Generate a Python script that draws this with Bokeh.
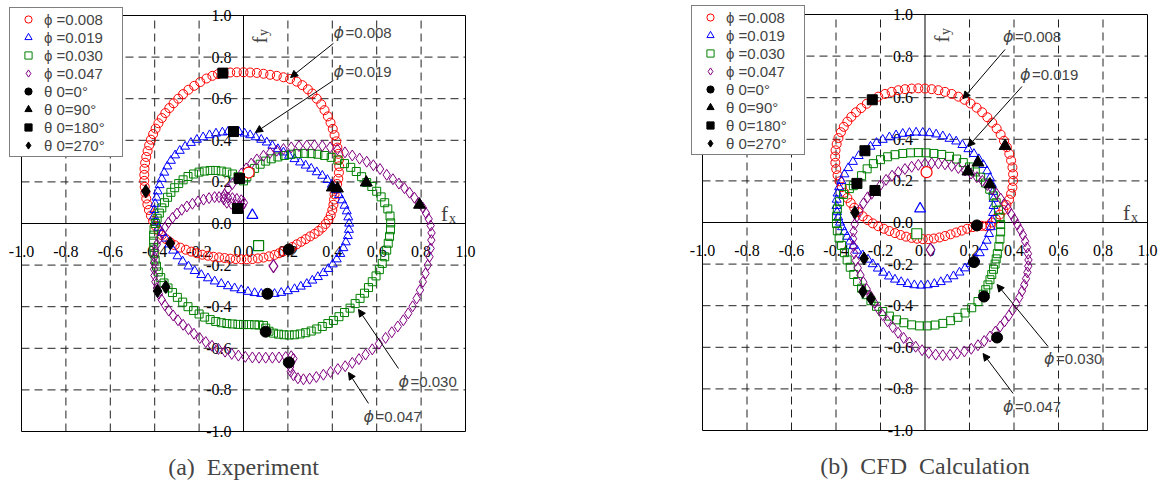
import math
from bokeh.plotting import figure
from bokeh.models import (Label, Arrow, NormalHead, Legend, LegendItem, Range1d)
from bokeh.layouts import row
from bokeh.embed import file_html
from bokeh.resources import INLINE

# ---------------- data ----------------
TICKS = [-1.0, -0.8, -0.6, -0.4, -0.2, 0.0, 0.2, 0.4, 0.6, 0.8, 1.0]
TICK_LABELS = ["-1.0", "-0.8", "-0.6", "-0.4", "-0.2", "0.0", "0.2", "0.4", "0.6", "0.8", "1.0"]
GRID = [-0.8, -0.6, -0.4, -0.2, 0.2, 0.4, 0.6, 0.8]

SERIES = ["\u03d5 =0.008", "\u03d5 =0.019", "\u03d5 =0.030", "\u03d5 =0.047"]
THETAS = ["\u03b8 0=0°", "\u03b8 0=90°", "\u03b8 0=180°", "\u03b8 0=270°"]
NOTE_TEXT = ["=0.008", "=0.019", "=0.030", "=0.047"]
CAPTIONS = ["(a)\u00a0\u00a0Experiment", "(b)\u00a0\u00a0CFD\u00a0\u00a0Calculation"]
SERIF = "Times New Roman"

# (a) Experiment orbits (fx, fy)
EXP_008 = [(-0.09,0.724),(-0.06,0.726),(-0.03,0.727),(0.0,0.727),(0.03,0.726),(0.06,0.724),(0.09,0.72),(0.12,0.715),(0.15,0.71),(0.18,0.703),(0.21,0.695),(0.24,0.682),(0.265,0.665),(0.29,0.645),(0.31,0.625),(0.33,0.60),(0.35,0.573),(0.365,0.545),(0.38,0.515),(0.392,0.485),(0.402,0.455),(0.41,0.425),(0.418,0.395),(0.423,0.365),(0.427,0.335),(0.43,0.305),(0.431,0.275),(0.43,0.245),(0.427,0.215),(0.422,0.19),(0.415,0.165),(0.41,0.14),(0.408,0.115),(0.405,0.09),(0.40,0.065),(0.393,0.04),(0.383,0.018),(0.37,-0.002),(0.355,-0.02),(0.338,-0.036),(0.32,-0.05),(0.30,-0.062),(0.28,-0.075),(0.26,-0.088),(0.24,-0.1),(0.22,-0.113),(0.20,-0.124),(0.18,-0.134),(0.16,-0.143),(0.14,-0.151),(0.115,-0.158),(0.09,-0.164),(0.065,-0.168),(0.04,-0.171),(0.015,-0.172),(-0.01,-0.172),(-0.035,-0.171),(-0.06,-0.169),(-0.085,-0.166),(-0.11,-0.163),(-0.135,-0.16),(-0.16,-0.155),(-0.185,-0.15),(-0.21,-0.143),(-0.235,-0.135),(-0.26,-0.126),(-0.285,-0.116),(-0.31,-0.104),(-0.33,-0.09),(-0.35,-0.074),(-0.368,-0.056),(-0.383,-0.035),(-0.396,-0.012),(-0.407,0.012),(-0.417,0.038),(-0.426,0.065),(-0.433,0.092),(-0.438,0.12),(-0.442,0.148),(-0.445,0.176),(-0.447,0.205),(-0.447,0.234),(-0.446,0.263),(-0.443,0.292),(-0.438,0.32),(-0.432,0.348),(-0.425,0.376),(-0.417,0.403),(-0.407,0.43),(-0.396,0.456),(-0.383,0.482),(-0.368,0.507),(-0.352,0.531),(-0.334,0.555),(-0.315,0.578),(-0.294,0.6),(-0.272,0.622),(-0.248,0.643),(-0.222,0.662),(-0.195,0.68),(-0.167,0.697),(-0.14,0.71),(-0.115,0.718)]
EXP_019 = [(-0.045,0.442),(-0.02,0.44),(0.005,0.433),(0.03,0.425),(0.055,0.415),(0.08,0.403),(0.105,0.39),(0.13,0.374),(0.155,0.358),(0.18,0.342),(0.205,0.326),(0.23,0.31),(0.255,0.294),(0.28,0.279),(0.305,0.264),(0.33,0.247),(0.355,0.23),(0.378,0.21),(0.398,0.187),(0.415,0.162),(0.43,0.137),(0.443,0.112),(0.455,0.086),(0.465,0.059),(0.472,0.03),(0.476,0.0),(0.475,-0.03),(0.47,-0.06),(0.461,-0.09),(0.45,-0.118),(0.436,-0.146),(0.42,-0.172),(0.402,-0.196),(0.382,-0.218),(0.36,-0.238),(0.335,-0.257),(0.31,-0.274),(0.285,-0.29),(0.258,-0.303),(0.23,-0.315),(0.2,-0.325),(0.17,-0.333),(0.14,-0.338),(0.11,-0.34),(0.08,-0.338),(0.05,-0.334),(0.02,-0.328),(-0.01,-0.32),(-0.04,-0.311),(-0.07,-0.301),(-0.1,-0.29),(-0.13,-0.278),(-0.16,-0.263),(-0.19,-0.247),(-0.22,-0.228),(-0.248,-0.206),(-0.274,-0.182),(-0.297,-0.157),(-0.317,-0.13),(-0.335,-0.1),(-0.35,-0.072),(-0.366,-0.045),(-0.382,-0.02),(-0.396,0.006),(-0.403,0.035),(-0.402,0.065),(-0.398,0.095),(-0.392,0.125),(-0.386,0.155),(-0.378,0.185),(-0.368,0.215),(-0.357,0.245),(-0.343,0.275),(-0.327,0.302),(-0.308,0.328),(-0.287,0.35),(-0.263,0.37),(-0.237,0.388),(-0.21,0.403),(-0.182,0.415),(-0.153,0.425),(-0.124,0.433),(-0.095,0.438),(-0.07,0.441)]
EXP_030 = [(0.0,0.205),(-0.025,0.225),(-0.05,0.238),(-0.075,0.247),(-0.1,0.252),(-0.125,0.255),(-0.15,0.255),(-0.175,0.252),(-0.2,0.247),(-0.225,0.238),(-0.25,0.226),(-0.272,0.21),(-0.292,0.192),(-0.31,0.172),(-0.327,0.15),(-0.342,0.126),(-0.356,0.1),(-0.368,0.075),(-0.379,0.05),(-0.389,0.025),(-0.397,0.0),(-0.403,-0.028),(-0.405,-0.056),(-0.405,-0.085),(-0.404,-0.115),(-0.402,-0.145),(-0.398,-0.175),(-0.392,-0.205),(-0.384,-0.233),(-0.373,-0.26),(-0.358,-0.286),(-0.34,-0.31),(-0.32,-0.332),(-0.298,-0.355),(-0.274,-0.378),(-0.25,-0.4),(-0.225,-0.418),(-0.2,-0.435),(-0.175,-0.45),(-0.15,-0.462),(-0.125,-0.471),(-0.1,-0.477),(-0.075,-0.481),(-0.05,-0.483),(-0.025,-0.485),(0.0,-0.486),(0.025,-0.486),(0.05,-0.487),(0.07,-0.488),(0.09,-0.49),(0.1,-0.503),(0.115,-0.518),(0.135,-0.527),(0.158,-0.532),(0.182,-0.535),(0.206,-0.536),(0.23,-0.535),(0.255,-0.531),(0.28,-0.525),(0.305,-0.517),(0.33,-0.507),(0.355,-0.495),(0.38,-0.481),(0.405,-0.466),(0.43,-0.448),(0.455,-0.428),(0.48,-0.407),(0.503,-0.385),(0.525,-0.36),(0.545,-0.335),(0.563,-0.308),(0.58,-0.28),(0.597,-0.252),(0.612,-0.222),(0.625,-0.192),(0.636,-0.16),(0.645,-0.128),(0.652,-0.095),(0.658,-0.062),(0.662,-0.03),(0.663,0.003),(0.66,0.036),(0.65,0.07),(0.636,0.1),(0.62,0.128),(0.6,0.155),(0.578,0.178),(0.555,0.197),(0.532,0.225),(0.508,0.25),(0.483,0.27),(0.455,0.288),(0.425,0.305),(0.395,0.318),(0.365,0.327),(0.335,0.333),(0.305,0.336),(0.275,0.337),(0.245,0.336),(0.215,0.333),(0.185,0.327),(0.155,0.32),(0.125,0.311),(0.1,0.3),(0.075,0.285),(0.05,0.265),(0.03,0.245),(0.015,0.225)]
EXP_047 = [(-0.005,0.085),(0.002,0.1),(-0.01,0.112),(-0.03,0.118),(-0.05,0.122),(-0.07,0.125),(-0.09,0.127),(-0.11,0.127),(-0.13,0.127),(-0.155,0.122),(-0.18,0.115),(-0.205,0.106),(-0.23,0.095),(-0.255,0.082),(-0.278,0.066),(-0.3,0.048),(-0.32,0.027),(-0.338,0.005),(-0.354,-0.02),(-0.368,-0.046),(-0.38,-0.073),(-0.39,-0.1),(-0.397,-0.13),(-0.401,-0.16),(-0.403,-0.19),(-0.403,-0.22),(-0.401,-0.25),(-0.397,-0.28),(-0.39,-0.31),(-0.381,-0.338),(-0.369,-0.366),(-0.354,-0.393),(-0.337,-0.418),(-0.317,-0.442),(-0.295,-0.465),(-0.272,-0.487),(-0.248,-0.508),(-0.223,-0.53),(-0.197,-0.551),(-0.17,-0.57),(-0.142,-0.588),(-0.113,-0.603),(-0.083,-0.616),(-0.053,-0.627),(-0.023,-0.635),(0.008,-0.641),(0.04,-0.644),(0.07,-0.645),(0.1,-0.645),(0.13,-0.645),(0.16,-0.644),(0.19,-0.642),(0.215,-0.638),(0.225,-0.65),(0.215,-0.668),(0.21,-0.69),(0.213,-0.712),(0.225,-0.73),(0.245,-0.744),(0.27,-0.749),(0.298,-0.746),(0.328,-0.738),(0.36,-0.727),(0.392,-0.714),(0.425,-0.7),(0.458,-0.686),(0.49,-0.67),(0.52,-0.652),(0.55,-0.63),(0.58,-0.605),(0.61,-0.578),(0.64,-0.55),(0.668,-0.523),(0.695,-0.495),(0.72,-0.465),(0.742,-0.432),(0.762,-0.398),(0.78,-0.36),(0.795,-0.32),(0.808,-0.28),(0.82,-0.24),(0.83,-0.2),(0.838,-0.16),(0.843,-0.12),(0.846,-0.08),(0.847,-0.045),(0.843,-0.01),(0.834,0.022),(0.822,0.05),(0.808,0.076),(0.79,0.1),(0.77,0.124),(0.748,0.148),(0.725,0.17),(0.7,0.192),(0.673,0.213),(0.645,0.234),(0.615,0.262),(0.585,0.28),(0.555,0.297),(0.523,0.312),(0.49,0.327),(0.457,0.342),(0.423,0.356),(0.39,0.366),(0.355,0.373),(0.32,0.376),(0.285,0.375),(0.25,0.372),(0.215,0.366),(0.18,0.358),(0.15,0.35),(0.12,0.34),(0.09,0.326),(0.06,0.308),(0.035,0.288),(0.012,0.265),(-0.01,0.24),(-0.03,0.215),(-0.05,0.19),(-0.07,0.165),(-0.085,0.14),(-0.088,0.115),(-0.075,0.1),(-0.055,0.095),(-0.035,0.09),(-0.015,0.083)]

EXP_MEAN = [(0.023, 0.245), (0.04, 0.04), (0.068, -0.106), (0.135, -0.205)]
EXP_T0 = [(0.204, -0.125), (0.108, -0.338), (0.1, -0.52), (0.204, -0.668)]
EXP_T90 = [(0.40, 0.173), (0.423, 0.168), (0.553, 0.197), (0.793, 0.09)]
EXP_T180 = [(-0.093, 0.723), (-0.045, 0.442), (-0.018, 0.216), (-0.027, 0.072)]
EXP_T270 = [(-0.44, 0.155), (-0.33, -0.095), (-0.35, -0.305), (-0.387, -0.325)]

# (b) CFD orbits
CFD_008 = [(-0.237,0.59),(-0.21,0.605),(-0.18,0.618),(-0.15,0.628),(-0.12,0.636),(-0.09,0.641),(-0.06,0.644),(-0.03,0.645),(0.0,0.644),(0.03,0.641),(0.06,0.636),(0.09,0.628),(0.12,0.618),(0.15,0.605),(0.178,0.59),(0.205,0.572),(0.232,0.552),(0.257,0.53),(0.28,0.506),(0.302,0.48),(0.322,0.452),(0.34,0.423),(0.355,0.393),(0.368,0.362),(0.379,0.33),(0.387,0.298),(0.393,0.265),(0.396,0.232),(0.396,0.2),(0.393,0.168),(0.387,0.138),(0.378,0.11),(0.366,0.084),(0.352,0.06),(0.336,0.038),(0.318,0.018),(0.3,0.0),(0.295,-0.015),(0.275,-0.018),(0.255,-0.016),(0.235,-0.018),(0.215,-0.022),(0.19,-0.03),(0.165,-0.039),(0.14,-0.048),(0.115,-0.057),(0.09,-0.065),(0.065,-0.072),(0.04,-0.077),(0.015,-0.08),(-0.01,-0.08),(-0.035,-0.078),(-0.06,-0.074),(-0.085,-0.068),(-0.11,-0.06),(-0.135,-0.051),(-0.16,-0.041),(-0.185,-0.03),(-0.21,-0.018),(-0.235,-0.004),(-0.258,0.012),(-0.28,0.03),(-0.3,0.05),(-0.318,0.071),(-0.334,0.094),(-0.349,0.118),(-0.362,0.143),(-0.374,0.17),(-0.384,0.198),(-0.393,0.227),(-0.399,0.257),(-0.403,0.287),(-0.404,0.317),(-0.402,0.347),(-0.397,0.377),(-0.389,0.406),(-0.378,0.434),(-0.365,0.46),(-0.349,0.485),(-0.331,0.508),(-0.31,0.53),(-0.287,0.55),(-0.262,0.571)]
CFD_019 = [(-0.27,0.345),(-0.245,0.365),(-0.218,0.383),(-0.19,0.398),(-0.16,0.41),(-0.13,0.42),(-0.1,0.427),(-0.07,0.431),(-0.04,0.433),(-0.01,0.432),(0.02,0.43),(0.05,0.424),(0.08,0.415),(0.11,0.403),(0.14,0.39),(0.168,0.373),(0.195,0.353),(0.22,0.33),(0.242,0.305),(0.262,0.277),(0.279,0.247),(0.292,0.215),(0.301,0.182),(0.306,0.148),(0.308,0.114),(0.308,0.08),(0.306,0.046),(0.302,0.012),(0.296,-0.022),(0.288,-0.055),(0.277,-0.087),(0.263,-0.118),(0.246,-0.147),(0.226,-0.174),(0.204,-0.198),(0.18,-0.22),(0.155,-0.24),(0.128,-0.258),(0.1,-0.273),(0.071,-0.286),(0.042,-0.295),(0.012,-0.301),(-0.018,-0.303),(-0.048,-0.301),(-0.078,-0.295),(-0.107,-0.286),(-0.135,-0.274),(-0.162,-0.259),(-0.188,-0.241),(-0.212,-0.221),(-0.235,-0.2),(-0.256,-0.178),(-0.28,-0.157),(-0.305,-0.135),(-0.322,-0.113),(-0.337,-0.091),(-0.35,-0.068),(-0.362,-0.045),(-0.373,-0.022),(-0.382,0.0),(-0.39,0.025),(-0.395,0.05),(-0.398,0.08),(-0.397,0.11),(-0.393,0.14),(-0.386,0.17),(-0.376,0.2),(-0.362,0.232),(-0.345,0.262),(-0.324,0.292),(-0.298,0.32)]
CFD_030 = [(-0.306,0.188),(-0.285,0.225),(-0.26,0.258),(-0.232,0.283),(-0.2,0.302),(-0.168,0.316),(-0.135,0.326),(-0.1,0.332),(-0.065,0.335),(-0.03,0.336),(0.005,0.335),(0.04,0.332),(0.075,0.327),(0.11,0.318),(0.142,0.305),(0.172,0.288),(0.2,0.267),(0.226,0.243),(0.25,0.218),(0.272,0.19),(0.291,0.16),(0.307,0.128),(0.32,0.095),(0.33,0.06),(0.337,0.025),(0.34,-0.01),(0.34,-0.045),(0.337,-0.08),(0.332,-0.115),(0.325,-0.15),(0.32,-0.175),(0.315,-0.2),(0.308,-0.225),(0.3,-0.25),(0.292,-0.275),(0.283,-0.3),(0.273,-0.323),(0.262,-0.345),(0.238,-0.38),(0.21,-0.41),(0.18,-0.435),(0.148,-0.456),(0.115,-0.472),(0.08,-0.485),(0.045,-0.493),(0.01,-0.497),(-0.025,-0.497),(-0.06,-0.492),(-0.095,-0.482),(-0.128,-0.468),(-0.16,-0.45),(-0.19,-0.428),(-0.218,-0.403),(-0.243,-0.376),(-0.265,-0.347),(-0.285,-0.316),(-0.303,-0.284),(-0.32,-0.25),(-0.336,-0.215),(-0.35,-0.18),(-0.362,-0.145),(-0.375,-0.11),(-0.386,-0.075),(-0.394,-0.04),(-0.398,-0.005),(-0.398,0.03),(-0.394,0.065),(-0.384,0.1),(-0.366,0.135),(-0.34,0.163),(-0.322,0.177)]
CFD_047 = [(-0.225,0.154),(-0.2,0.18),(-0.175,0.205),(-0.148,0.225),(-0.12,0.242),(-0.09,0.257),(-0.06,0.268),(-0.03,0.277),(0.0,0.283),(0.03,0.285),(0.06,0.284),(0.09,0.28),(0.12,0.272),(0.15,0.262),(0.18,0.25),(0.207,0.235),(0.233,0.218),(0.258,0.2),(0.28,0.18),(0.302,0.16),(0.322,0.138),(0.34,0.115),(0.357,0.09),(0.373,0.065),(0.388,0.04),(0.402,0.015),(0.415,-0.01),(0.428,-0.035),(0.44,-0.06),(0.45,-0.09),(0.458,-0.12),(0.463,-0.15),(0.465,-0.18),(0.464,-0.21),(0.46,-0.24),(0.454,-0.27),(0.446,-0.3),(0.436,-0.33),(0.424,-0.36),(0.41,-0.39),(0.394,-0.42),(0.377,-0.448),(0.358,-0.475),(0.338,-0.5),(0.316,-0.525),(0.292,-0.548),(0.266,-0.57),(0.238,-0.59),(0.208,-0.607),(0.177,-0.62),(0.145,-0.63),(0.113,-0.636),(0.08,-0.638),(0.048,-0.635),(0.017,-0.627),(-0.013,-0.614),(-0.042,-0.597),(-0.07,-0.577),(-0.096,-0.555),(-0.121,-0.53),(-0.145,-0.503),(-0.168,-0.475),(-0.19,-0.445),(-0.21,-0.415),(-0.228,-0.385),(-0.245,-0.353),(-0.262,-0.32),(-0.277,-0.287),(-0.29,-0.253),(-0.302,-0.218),(-0.311,-0.183),(-0.318,-0.148),(-0.322,-0.113),(-0.323,-0.078),(-0.321,-0.043),(-0.316,-0.008),(-0.307,0.027),(-0.294,0.06),(-0.277,0.092),(-0.258,0.121),(-0.24,0.138)]

CFD_MEAN = [(0.007, 0.242), (-0.022, 0.066), (-0.037, -0.054), (0.025, -0.131)]
CFD_T0 = [(0.233, -0.014), (0.22, -0.19), (0.265, -0.356), (0.324, -0.553)]
CFD_T90 = [(0.36, 0.368), (0.238, 0.288), (0.292, 0.183), (0.193, 0.245)]
CFD_T180 = [(-0.237, 0.59), (-0.27, 0.345), (-0.306, 0.188), (-0.225, 0.154)]
CFD_T270 = [(-0.315, 0.048), (-0.274, -0.173), (-0.279, -0.332), (-0.243, -0.366)]

# annotation anchors: (text_x, text_y, arrow_x0, arrow_y0, arrow_x1, arrow_y1)
EXP_NOTES = [(0.405, 0.918, 0.405, 0.866, 0.212, 0.702),
             (0.405, 0.731, 0.405, 0.688, 0.054, 0.438),
             (0.698, -0.76, 0.698, -0.697, 0.518, -0.413),
             (0.54, -0.93, 0.563, -0.865, 0.473, -0.716)]
CFD_NOTES = [(0.35, 0.894, 0.36, 0.832, 0.171, 0.596),
             (0.427, 0.712, 0.436, 0.654, 0.193, 0.365),
             (0.535, -0.654, 0.553, -0.596, 0.324, -0.298),
             (0.35, -0.885, 0.396, -0.822, 0.261, -0.63)]

COLORS = ["#FF0000", "#0000FF", "#008000", "#800080"]
MARKERS = ["circle", "triangle", "square", "diamond"]
SIZES = [9, 9, 8, 11]
BLACK_SIZES = [11, 12, 10, 13]


def xs(pts):
    return [p[0] for p in pts]


def ys(pts):
    return [p[1] for p in pts]


def build(curves, means, thetas, notes, caption, fw, fh, pad_l, pad_r, pad_t, pad_b,
          sx, sy, leg_loc):
    # the Bokeh frame fills the whole figure; the drawn [-1,1] box sits inside it
    lo, hi = TICKS[0], TICKS[-1]
    xr = Range1d(lo - pad_l / sx, hi + pad_r / sx)
    yr = Range1d(lo - pad_b / sy, hi + pad_t / sy)
    p = figure(frame_width=fw, frame_height=fh, x_range=xr, y_range=yr,
               output_backend="svg", toolbar_location=None,
               x_axis_location=None, y_axis_location=None, min_border=0)
    p.grid.visible = False
    p.outline_line_color = None
    p.background_fill_color = "white"
    p.border_fill_color = "white"

    n = len(GRID)
    p.segment(x0=GRID, y0=[lo] * n, x1=GRID, y1=[hi] * n, line_color="#222222",
              line_width=1, line_dash="8 5")
    p.segment(x0=[lo] * n, y0=GRID, x1=[hi] * n, y1=GRID, line_color="#222222",
              line_width=1, line_dash="8 5")
    p.segment(x0=[0, lo], y0=[lo, 0], x1=[0, hi], y1=[hi, 0], line_color="black",
              line_width=1)
    p.quad(left=[lo], right=[hi], bottom=[lo], top=[hi], fill_color=None,
           line_color="black", line_width=1)

    for t, s in zip(TICKS, TICK_LABELS):
        p.add_layout(Label(x=t, y=0, y_offset=-28, text=s, text_align="center",
                           text_baseline="middle", text_font=SERIF,
                           text_font_size="16px", text_color="black", level="underlay"))
        p.add_layout(Label(x=0, y=t, x_offset=-12, text=s, text_align="right",
                           text_baseline="middle", text_font=SERIF,
                           text_font_size="16px", text_color="black", level="underlay"))

    # axis names
    p.add_layout(Label(x=0.89, y=0.045, text="f", text_font=SERIF,
                       text_font_size="21px", text_baseline="alphabetic", text_align="left"))
    p.add_layout(Label(x=0.926, y=0.026, text="x", text_font=SERIF,
                       text_font_size="14px", text_baseline="alphabetic", text_align="left"))
    p.add_layout(Label(x=0.075, y=0.865, text="f", text_font=SERIF,
                       text_font_size="21px", text_baseline="alphabetic", text_align="left",
                       angle=math.pi / 2))
    p.add_layout(Label(x=0.09, y=0.902, text="y", text_font=SERIF,
                       text_font_size="14px", text_baseline="alphabetic", text_align="left",
                       angle=math.pi / 2))

    curve_r = []
    for pts, c, m, s in zip(curves, COLORS, MARKERS, SIZES):
        r = p.scatter(xs(pts), ys(pts), marker=m, size=s, line_color=c,
                      fill_color=None, line_width=1)
        curve_r.append(r)
    for (mx, my), c, m, s in zip(means, COLORS, MARKERS, SIZES):
        p.scatter([mx], [my], marker=m, size=s + 2, line_color=c,
                  fill_color="white", line_width=1.2)
    theta_r = []
    for pts, m, s in zip(thetas, MARKERS, BLACK_SIZES):
        r = p.scatter(xs(pts), ys(pts), marker=m, size=s, line_color="black",
                      fill_color="black")
        theta_r.append(r)

    for (tx, ty, ax0, ay0, ax1, ay1), t in zip(notes, NOTE_TEXT):
        p.add_layout(Arrow(end=NormalHead(size=7, fill_color="black", line_color="black",
                                          line_width=1),
                           x_start=ax0, y_start=ay0, x_end=ax1, y_end=ay1,
                           line_color="black", line_width=1))
        p.add_layout(Label(x=tx, y=ty, text="\u03d5", text_font="DejaVu Sans",
                           text_font_style="italic", text_font_size="16px",
                           text_baseline="middle", text_align="left"))
        p.add_layout(Label(x=tx, y=ty, x_offset=12, text=t, text_font="Liberation Sans",
                           text_font_size="15px", text_baseline="middle", text_align="left"))

    items = [LegendItem(label=nm, renderers=[r]) for nm, r in zip(SERIES, curve_r)]
    items += [LegendItem(label=nm, renderers=[r]) for nm, r in zip(THETAS, theta_r)]
    leg = Legend(items=items, location=leg_loc, glyph_width=32, glyph_height=18,
                 label_height=18, spacing=0, padding=2, margin=0, label_standoff=0,
                 label_width=76, label_text_font="Liberation Sans",
                 label_text_font_size="15px", border_line_color="black",
                 border_line_width=1, background_fill_color="white",
                 background_fill_alpha=1.0)
    p.add_layout(leg)

    p.add_layout(Label(x=0.0, y=lo, y_offset=-35, text=caption,
                       text_align="center", text_baseline="middle",
                       text_font=SERIF, text_font_size="24px"))
    return p


p1 = build([EXP_008, EXP_019, EXP_030, EXP_047], EXP_MEAN,
           [EXP_T0, EXP_T90, EXP_T180, EXP_T270], EXP_NOTES, CAPTIONS[0],
           583, 481, 21, 118, 15, 50, 222.0, 208.0, (9, 324))
p2 = build([CFD_008, CFD_019, CFD_030, CFD_047], CFD_MEAN,
           [CFD_T0, CFD_T90, CFD_T180, CFD_T270], CFD_NOTES, CAPTIONS[1],
           577, 481, 119, 13, 14, 51, 222.5, 208.0, (108, 326))

layout = row(p1, p2)
open("out.html", "w").write(file_html(layout, INLINE))
